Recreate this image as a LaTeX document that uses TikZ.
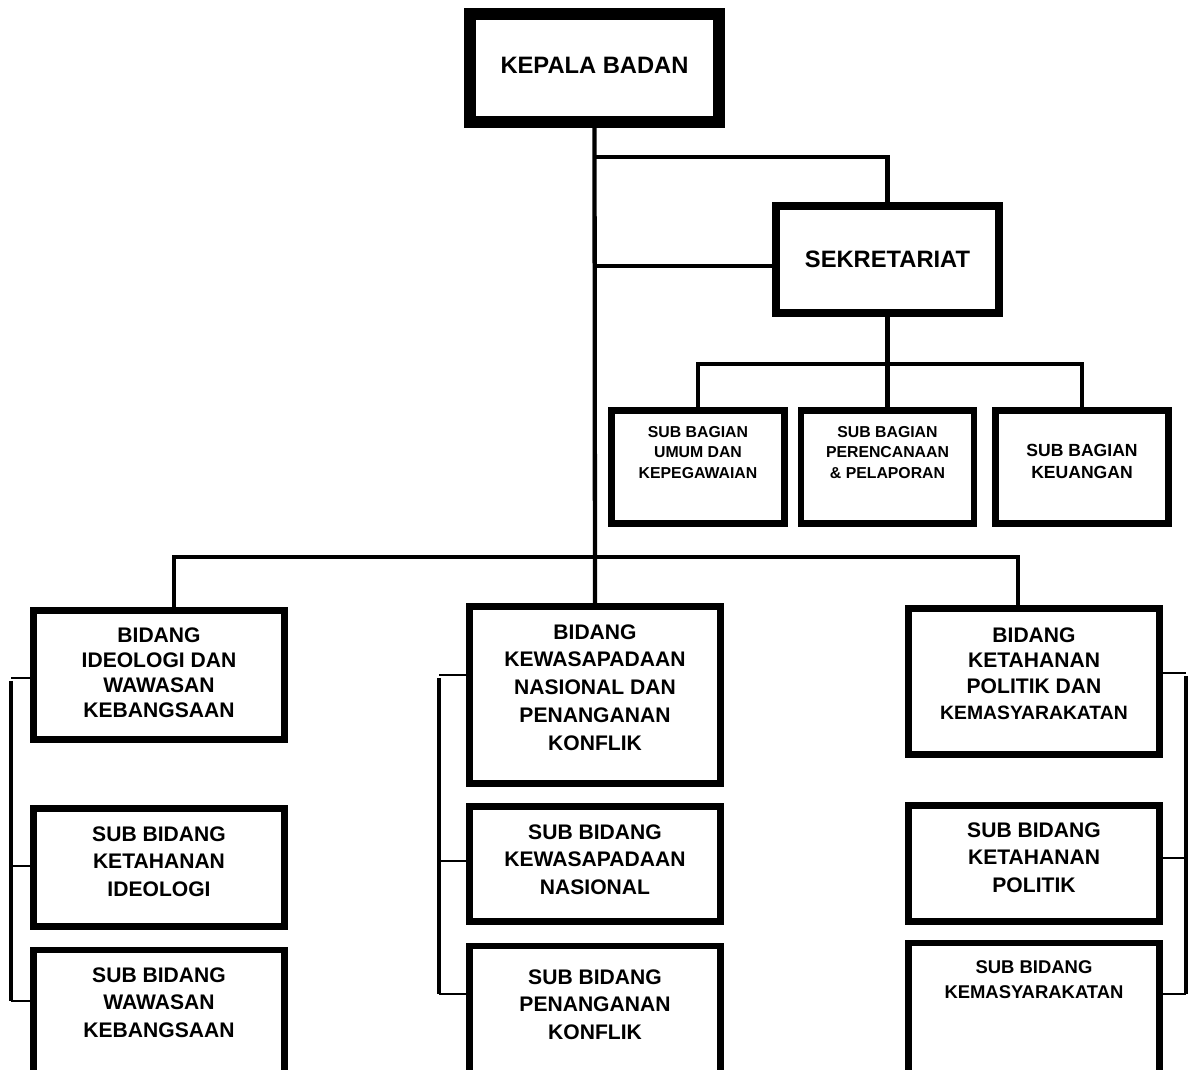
\documentclass[tikz,border=0pt]{standalone}
\usepackage{fontspec}
\setmainfont{Liberation Sans}
\usetikzlibrary{positioning,calc}
\tikzset{
  unit/.style={draw, fill=white, inner sep=0pt, line width=0.13cm},
  lbl/.style={align=center, inner sep=0pt},
  fs/.style 2 args={font=\bfseries\fontsize{#1}{#2}\selectfont},
  link/.style={line width=0.086cm},
  rail/.style={line width=0.066cm},
  tick/.style={line width=0.04cm},
}
\begin{document}
\begin{tikzpicture}[x=0.02cm, y=-0.02cm]
  \useasboundingbox (0,0) rectangle (1190,1070);
  \clip (0,0) rectangle (1190,1070);

  % Draw the head and the secretariat
  \node[unit, line width=0.24cm, minimum width=4.98cm, minimum height=2.16cm,
        label={[lbl, fs={13.5}{16}, yshift=0.06cm]center:KEPALA BADAN}] (kb) at (594.5,68) {};
  \node[unit, line width=0.165cm, minimum width=4.45cm, minimum height=2.13cm,
        label={[lbl, fs={13.5}{16}]center:SEKRETARIAT}] (sek) at (887.5,259.5) {};

  % Draw the sub bagian row
  \foreach \x/\n/\f/\l/\s/\t in {698/sb1/9/11.7/0.29/{SUB BAGIAN\\UMUM DAN\\KEPEGAWAIAN},
      887.5/sb2/9/11.7/0.29/{SUB BAGIAN\\PERENCANAAN\\\& PELAPORAN},
      1082/sb3/10/13/0.11/{SUB BAGIAN\\KEUANGAN}}{
    \node[unit, minimum width=3.47cm, minimum height=2.27cm,
          label={[lbl, fs={\f}{\l}, yshift=\s cm]center:\t}] (\n) at (\x,467) {};
  }

  % Draw the bidang boxes
  \node[unit, minimum width=5.03cm, minimum height=2.59cm,
        label={[lbl, fs={12}{14.2}, yshift=0.05cm]center:{BIDANG\\IDEOLOGI DAN\\WAWASAN\\KEBANGSAAN}}] (bi) at (159,675) {};
  \node[unit, minimum width=5.03cm, minimum height=3.55cm,
        label={[lbl, fs={12}{15.8}, yshift=0.15cm]center:{BIDANG\\KEWASAPADAAN\\NASIONAL DAN\\PENANGANAN\\KONFLIK}}] (bk) at (595,695) {};
  \node[unit, minimum width=5.03cm, minimum height=2.93cm,
        label={[lbl, fs={12}{14.6}, yshift=0.16cm]center:{BIDANG\\KETAHANAN\\POLITIK DAN\\{\fontsize{11}{14.6}\selectfont KEMASYARAKATAN}}}] (bp) at (1034,681.5) {};

  % Draw the sub bidang boxes
  \node[unit, minimum width=5.03cm, minimum height=2.37cm,
        label={[lbl, fs={12}{15.6}, yshift=0.12cm]center:{SUB BIDANG\\KETAHANAN\\IDEOLOGI}}] (si1) at (159,867.5) {};
  \node[unit, minimum width=5.03cm, minimum height=4cm,
        label={[lbl, fs={12}{15.6}, yshift=0.95cm]center:{SUB BIDANG\\WAWASAN\\KEBANGSAAN}}] (si2) at (159,1050) {};
  \node[unit, minimum width=5.03cm, minimum height=2.31cm,
        label={[lbl, fs={12}{15.6}, yshift=0.09cm]center:{SUB BIDANG\\KEWASAPADAAN\\NASIONAL}}] (sk1) at (595,864) {};
  \node[unit, minimum width=5.03cm, minimum height=4cm,
        label={[lbl, fs={12}{15.6}, yshift=0.83cm]center:{SUB BIDANG\\PENANGANAN\\KONFLIK}}] (sk2) at (595,1046) {};
  \node[unit, minimum width=5.03cm, minimum height=2.33cm,
        label={[lbl, fs={12}{15.6}, yshift=0.12cm]center:{SUB BIDANG\\KETAHANAN\\POLITIK}}] (sp1) at (1034,863.5) {};
  \node[unit, minimum width=5.03cm, minimum height=4cm,
        label={[lbl, fs={10.5}{14.2}, yshift=1.27cm]center:{SUB BIDANG\\KEMASYARAKATAN}}] (sp2) at (1034,1043) {};

  % Draw the lines from the head
  \coordinate (hb) at (kb.south |- 0,557);
  \draw[link] (kb.south) -- (bk.north);
  \draw[link] (kb.south |- 0,157) -| (sek.north);
  \draw[link] (kb.south |- 0,266) -- (sek.west |- 0,266);
  \draw[link] ([xshift=0.3cm]bi.north) |- (hb) -| ([xshift=-0.32cm]bp.north);

  % Draw the lines under the secretariat
  \coordinate (sh) at (sek.south |- 0,364);
  \draw[link] (sek.south) -- (sb2.north);
  \draw[link] (sb1.north) |- (sh) -| (sb3.north);

  % Draw the side rails
  \foreach \x/\a/\b/\c/\p/\q/\r/\s in {11/678/866/1001/bi/si1/si2/west,
      439/675/861/994/bk/sk1/sk2/west, 1186/673/858/994/bp/sp1/sp2/east}{
    \coordinate (ra) at (\x,\a);
    \coordinate (rb) at (\x,\b);
    \coordinate (rc) at (\x,\c);
    \draw[tick] (ra) -- (\p.\s |- ra);
    \draw[tick] (rb) -- (\q.\s |- rb);
    \draw[tick] (rc) -- (\r.\s |- rc);
    \draw[rail] ([yshift=-0.06cm]ra) -- (rc);
  }
\end{tikzpicture}
\end{document}
